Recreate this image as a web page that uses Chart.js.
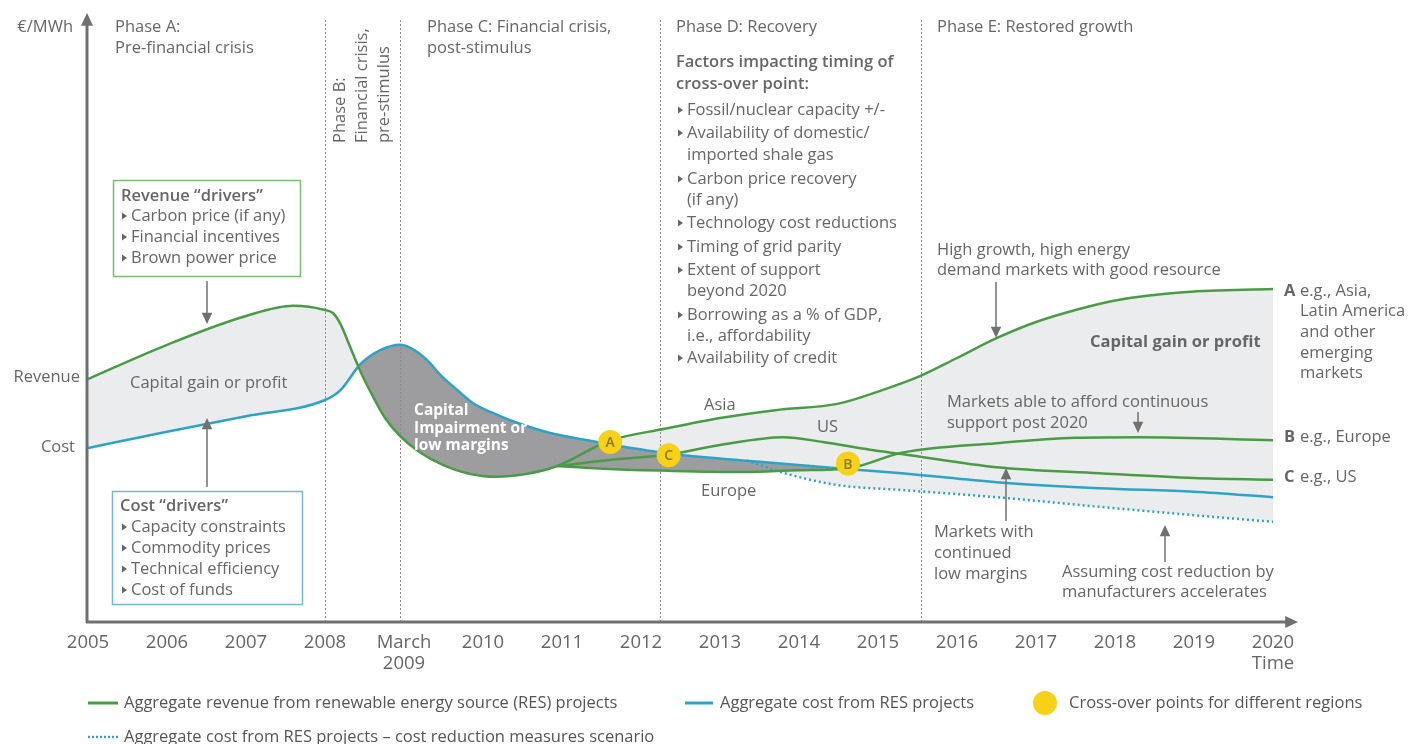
<!DOCTYPE html>
<html>
<head>
<meta charset="utf-8">
<script src="https://cdn.jsdelivr.net/npm/chart.js@4.4.0/dist/chart.umd.min.js"></script>
<style>
  html, body { margin: 0; padding: 0; background: #fff; }
  #wrap { width: 1427px; height: 744px; position: relative; }
</style>
</head>
<body>
<div id="wrap"><canvas id="myChart"></canvas></div>
<script>
// x axis: years, y axis: arbitrary €/MWh units (no scale shown)
var years = [2005, 2006, 2007, 2008, 2009, 2010, 2011, 2012, 2013, 2014, 2015, 2016, 2017, 2018, 2019, 2020];
var tickLabels = ['2005', '2006', '2007', '2008', ['March', '2009'], '2010', '2011', '2012', '2013', '2014', '2015', '2016', '2017', '2018', '2019', ['2020', 'Time']];
var phaseBounds = [2008, 2008.95, 2012.24, 2015.54];

// revenue, common path then Asia branch (A)
var asiaYears = [2005, 2006, 2007, 2007.6, 2008, 2008.1, 2008.19, 2008.32, 2008.44, 2008.59, 2008.76, 2008.95, 2009.2, 2009.49, 2009.8, 2010.16, 2010.56, 2010.94,
  2011.6, 2012.3, 2013, 2013.7, 2014.5, 2015, 2015.5, 2016, 2016.5, 2017, 2017.5, 2018, 2018.9, 2020];
var asiaValues = [40.5, 46.2, 51.0, 52.7, 52.0, 51.5, 49.8, 45.8, 42.0, 38.0, 34.0, 31.0, 28.3, 26.2, 24.8, 24.2, 24.7, 26.0,
  30.2, 32.2, 34.0, 35.3, 36.4, 38.4, 40.8, 44.0, 47.3, 50.0, 52.0, 53.6, 55.0, 55.5];
// Europe branch (B)
var europeYears = [2010.94, 2011.6, 2012.35, 2013.3, 2014.0, 2014.62, 2015.3, 2016.5, 2017.5, 2018.3, 2020];
var europeValues = [26.0, 25.5, 25.2, 25.0, 25.3, 25.6, 28.2, 29.8, 30.7, 30.8, 30.3];
// US branch (C)
var usYears = [2010.94, 2011.6, 2012.35, 2013, 2013.8, 2014.3, 2014.9, 2015.3, 2016.5, 2017.8, 2019, 2020];
var usValues = [26.0, 27.0, 27.9, 29.5, 30.8, 30.0, 28.7, 28.0, 25.8, 24.8, 24.0, 23.7];
// aggregate cost
var costYears = [2005, 2006, 2007, 2008, 2008.2, 2008.45, 2008.7, 2008.95, 2009.08, 2009.29, 2009.46, 2009.67, 2009.87, 2010.13, 2010.43, 2010.85, 2011.27, 2011.61,
  2012.35, 2013.5, 2014.6, 2015.3, 2016.5, 2017.8, 2019, 2020];
var costValues = [29.0, 31.7, 34.3, 37.0, 38.7, 43.0, 45.3, 46.2, 45.7, 43.7, 41.2, 38.7, 36.5, 34.8, 33.2, 31.5, 30.4, 29.6,
  28.1, 26.7, 25.5, 24.8, 23.3, 22.3, 21.7, 20.8];
// cost reduction measures scenario
var scenarioYears = [2013.34, 2013.9, 2014.5, 2015.3, 2016.5, 2017.8, 2019, 2020];
var scenarioValues = [26.9, 24.5, 22.8, 22.0, 20.8, 19.2, 17.8, 16.7];
// cross-over points
var crossYears = [2011.61, 2012.35, 2014.62];
var crossValues = [30.0, 27.8, 26.4];
var crossLabels = ['A', 'C', 'B'];

var GREEN = '#4a9b46', BLUE = '#2ea3c6', YELLOW = '#f7d117';
var LIGHT = '#ebecee', DARK = '#9d9d9f', TXT = '#666666', AXIS = '#707070';
var FONT = '"Open Sans", sans-serif';

function pts(xs, ys) {
  return xs.map(function(x, i) { return { x: x, y: ys[i] }; });
}

function txt(ctx, s, x, y, o) {
  o = o || {};
  ctx.font = (o.w || 'normal') + ' ' + (o.s || 16.5) + 'px ' + FONT;
  ctx.fillStyle = o.c || TXT;
  ctx.textAlign = o.a || 'left';
  ctx.textBaseline = 'middle';
  ctx.fillText(s, x, y);
}
function bullet(ctx, s, x, y, o) {
  ctx.fillStyle = TXT;
  ctx.beginPath();
  ctx.moveTo(x, y - 3.5); ctx.lineTo(x + 5, y); ctx.lineTo(x, y + 3.5);
  ctx.closePath(); ctx.fill();
  txt(ctx, s, x + 9, y, o);
}
function arrow(ctx, x1, y1, x2, y2, col, w, hs) {
  col = col || AXIS; w = w || 1.5; hs = hs || 7;
  var a = Math.atan2(y2 - y1, x2 - x1);
  ctx.strokeStyle = col; ctx.fillStyle = col; ctx.lineWidth = w;
  ctx.beginPath();
  ctx.moveTo(x1, y1);
  ctx.lineTo(x2 - Math.cos(a) * hs, y2 - Math.sin(a) * hs);
  ctx.stroke();
  ctx.beginPath();
  ctx.moveTo(x2, y2);
  ctx.lineTo(x2 - Math.cos(a) * hs * 1.6 + Math.sin(a) * hs * 0.75, y2 - Math.sin(a) * hs * 1.6 - Math.cos(a) * hs * 0.75);
  ctx.lineTo(x2 - Math.cos(a) * hs * 1.6 - Math.sin(a) * hs * 0.75, y2 - Math.sin(a) * hs * 1.6 + Math.cos(a) * hs * 0.75);
  ctx.closePath(); ctx.fill();
}

var decor = {
  id: 'decor',
  beforeDatasetsDraw: function(chart) {
    var ctx = chart.ctx, x = chart.scales.x, area = chart.chartArea;
    ctx.save();
    // phase separators
    ctx.strokeStyle = '#8a8a8a'; ctx.lineWidth = 1; ctx.setLineDash([2, 2]);
    phaseBounds.forEach(function(b) {
      var px = Math.round(x.getPixelForValue(b)) + 0.5;
      ctx.beginPath(); ctx.moveTo(px, 20); ctx.lineTo(px, area.bottom); ctx.stroke();
    });
    ctx.restore();
  },
  afterDatasetsDraw: function(chart) {
    var ctx = chart.ctx, ys = chart.scales.y, area = chart.chartArea;
    ctx.save();
    // axes with arrows
    arrow(ctx, area.left - 1, area.bottom + 1, area.left - 1, 13, AXIS, 3, 8);
    arrow(ctx, area.left - 2, area.bottom, 1298, area.bottom, AXIS, 3, 8);
    txt(ctx, '€/MWh', 73, 27, { a: 'right' });
    txt(ctx, 'Revenue', 80, ys.getPixelForValue(asiaValues[0]) - 2, { a: 'right' });
    txt(ctx, 'Cost', 75, ys.getPixelForValue(costValues[0]) - 1, { a: 'right' });

    // cross-over letters
    var meta = chart.getDatasetMeta(5);
    meta.data.forEach(function(p, i) {
      txt(ctx, crossLabels[i], p.x, p.y + 1, { a: 'center', s: 14, w: '600', c: '#8a7a2a' });
    });

    // phase headings
    txt(ctx, 'Phase A:', 115, 27);
    txt(ctx, 'Pre-financial crisis', 115, 48);
    [['Phase B:', 340], ['Financial crisis,', 362], ['pre-stimulus', 384]].forEach(function(l) {
      ctx.save(); ctx.translate(l[1], 143); ctx.rotate(-Math.PI / 2);
      txt(ctx, l[0], 0, 0); ctx.restore();
    });
    txt(ctx, 'Phase C: Financial crisis,', 427, 27);
    txt(ctx, 'post-stimulus', 427, 48);
    txt(ctx, 'Phase D: Recovery', 676, 27);
    txt(ctx, 'Factors impacting timing of', 676, 62, { w: '600' });
    txt(ctx, 'cross-over point:', 676, 84, { w: '600' });
    bullet(ctx, 'Fossil/nuclear capacity +/-', 678, 110);
    bullet(ctx, 'Availability of domestic/', 678, 133);
    txt(ctx, 'imported shale gas', 687, 155);
    bullet(ctx, 'Carbon price recovery', 678, 179);
    txt(ctx, '(if any)', 687, 200);
    bullet(ctx, 'Technology cost reductions', 678, 223);
    bullet(ctx, 'Timing of grid parity', 678, 247);
    bullet(ctx, 'Extent of support', 678, 270);
    txt(ctx, 'beyond 2020', 687, 291);
    bullet(ctx, 'Borrowing as a % of GDP,', 678, 315);
    txt(ctx, 'i.e., affordability', 687, 336);
    bullet(ctx, 'Availability of credit', 678, 358);
    txt(ctx, 'Phase E: Restored growth', 937, 27);

    // driver boxes
    ctx.fillStyle = '#fff';
    ctx.lineWidth = 1.5;
    ctx.strokeStyle = '#7dba73';
    ctx.fillRect(113, 180, 187, 96); ctx.strokeRect(113.5, 180.5, 187, 96);
    txt(ctx, 'Revenue \u201cdrivers\u201d', 121, 196, { w: '600' });
    bullet(ctx, 'Carbon price (if any)', 122, 216);
    bullet(ctx, 'Financial incentives', 122, 237);
    bullet(ctx, 'Brown power price', 122, 258);
    arrow(ctx, 207, 281, 207, 324);
    ctx.fillStyle = '#fff';
    ctx.strokeStyle = '#72b8cf';
    ctx.fillRect(112, 491, 190, 113); ctx.strokeRect(112.5, 491.5, 190, 113);
    txt(ctx, 'Cost \u201cdrivers\u201d', 120, 506, { w: '600' });
    bullet(ctx, 'Capacity constraints', 122, 527);
    bullet(ctx, 'Commodity prices', 122, 548);
    bullet(ctx, 'Technical efficiency', 122, 569);
    bullet(ctx, 'Cost of funds', 122, 590);
    arrow(ctx, 207, 487, 207, 418);

    // area labels
    txt(ctx, 'Capital gain or profit', 130, 383);
    txt(ctx, 'Capital', 414, 411, { w: 'bold', c: '#fff', s: 15.5 });
    txt(ctx, 'Impairment or', 414, 429, { w: 'bold', c: '#fff', s: 15.5 });
    txt(ctx, 'low margins', 414, 446, { w: 'bold', c: '#fff', s: 15.5 });
    txt(ctx, 'Asia', 704, 405);
    txt(ctx, 'US', 817, 427);
    txt(ctx, 'Europe', 701, 491);

    txt(ctx, 'High growth, high energy', 937, 250);
    txt(ctx, 'demand markets with good resource', 937, 270);
    arrow(ctx, 996, 282, 996, 338);
    txt(ctx, 'Capital gain or profit', 1090, 342, { w: 'bold' });
    txt(ctx, 'Markets able to afford continuous', 947, 402);
    txt(ctx, 'support post 2020', 947, 423);
    arrow(ctx, 1138, 412, 1138, 433);
    txt(ctx, 'Markets with', 934, 532);
    txt(ctx, 'continued', 934, 553);
    txt(ctx, 'low margins', 934, 574);
    arrow(ctx, 1006, 521, 1006, 468);
    txt(ctx, 'Assuming cost reduction by', 1062, 572);
    txt(ctx, 'manufacturers accelerates', 1062, 592);
    arrow(ctx, 1165, 562, 1165, 525);

    // end labels
    txt(ctx, 'A', 1284, 291, { w: 'bold' });
    txt(ctx, 'e.g., Asia,', 1300, 291);
    txt(ctx, 'Latin America', 1300, 311);
    txt(ctx, 'and other', 1300, 332);
    txt(ctx, 'emerging', 1300, 353);
    txt(ctx, 'markets', 1300, 373);
    txt(ctx, 'B', 1284, 437, { w: 'bold' });
    txt(ctx, 'e.g., Europe', 1300, 437);
    txt(ctx, 'C', 1284, 477, { w: 'bold' });
    txt(ctx, 'e.g., US', 1300, 477);

    // legend
    ctx.lineWidth = 3;
    ctx.strokeStyle = GREEN;
    ctx.beginPath(); ctx.moveTo(88, 703); ctx.lineTo(118, 703); ctx.stroke();
    txt(ctx, 'Aggregate revenue from renewable energy source (RES) projects', 124, 703, { c: '#555' });
    ctx.strokeStyle = BLUE;
    ctx.beginPath(); ctx.moveTo(685, 703); ctx.lineTo(713, 703); ctx.stroke();
    txt(ctx, 'Aggregate cost from RES projects', 720, 703, { c: '#555' });
    ctx.fillStyle = YELLOW;
    ctx.beginPath(); ctx.arc(1045, 703, 12, 0, Math.PI * 2); ctx.fill();
    txt(ctx, 'Cross-over points for different regions', 1069, 703, { c: '#555' });
    ctx.setLineDash([2, 2]);
    ctx.strokeStyle = BLUE; ctx.lineWidth = 2.5;
    ctx.beginPath(); ctx.moveTo(88, 737); ctx.lineTo(118, 737); ctx.stroke();
    ctx.setLineDash([]);
    txt(ctx, 'Aggregate cost from RES projects \u2013 cost reduction measures scenario', 124, 737, { c: '#555' });
    ctx.restore();
  }
};

var lineBase = { pointRadius: 0, borderWidth: 2.5, cubicInterpolationMode: 'monotone', backgroundColor: 'transparent' };

new Chart('myChart', {
  type: 'line',
  data: {
    datasets: [
      Object.assign({}, lineBase, { label: 'Asia', data: pts(asiaYears, asiaValues), borderColor: GREEN,
        fill: { target: 3, above: LIGHT, below: DARK } }),
      Object.assign({}, lineBase, { label: 'Europe', data: pts(europeYears, europeValues), borderColor: GREEN,
        fill: { target: 3, above: 'rgba(0,0,0,0)', below: DARK } }),
      Object.assign({}, lineBase, { label: 'US', data: pts(usYears, usValues), borderColor: GREEN, fill: false }),
      Object.assign({}, lineBase, { label: 'Cost', data: pts(costYears, costValues), borderColor: BLUE, fill: false }),
      Object.assign({}, lineBase, { label: 'Scenario', data: pts(scenarioYears, scenarioValues), borderColor: BLUE,
        borderDash: [2, 3], fill: { target: 3, above: 'rgba(0,0,0,0)', below: LIGHT } }),
      { type: 'scatter', label: 'Cross-over', data: pts(crossYears, crossValues), pointRadius: 12, order: -1,
        pointBackgroundColor: YELLOW, pointBorderWidth: 0, borderColor: YELLOW, showLine: false }
    ]
  },
  options: {
    responsive: true,
    maintainAspectRatio: false,
    animation: false,
    layout: { padding: { left: 88, right: 154, top: 22, bottom: 22 } },
    plugins: {
      legend: { display: false },
      tooltip: { enabled: false },
      filler: { drawTime: 'beforeDatasetsDraw' }
    },
    scales: {
      x: {
        type: 'linear', min: 2005, max: 2020,
        afterBuildTicks: function(axis) { axis.ticks = years.map(function(v) { return { value: v }; }); },
        afterFit: function(axis) { axis.height = 100; },
        ticks: {
          autoSkip: false, maxRotation: 0, padding: 3, color: TXT,
          font: { size: 18.5, family: FONT, lineHeight: 1.1 },
          callback: function(v) { return tickLabels[years.indexOf(v)]; }
        },
        grid: { display: false },
        border: { display: false }
      },
      y: { display: false, min: 0, max: 100 }
    }
  },
  plugins: [decor]
});
</script>
</body>
</html>
